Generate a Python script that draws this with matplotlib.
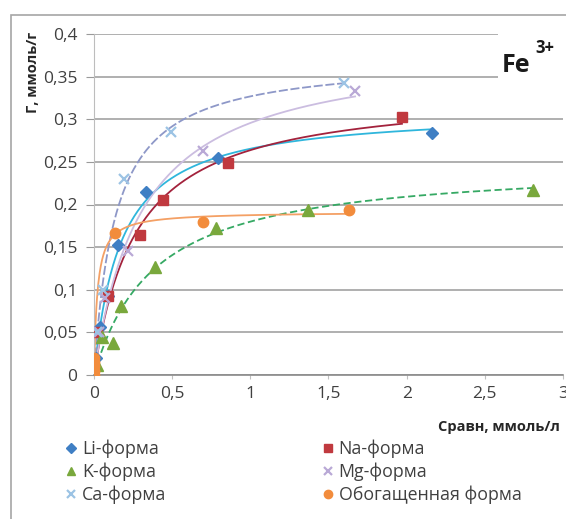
import numpy as np
import matplotlib
matplotlib.use("Agg")
import matplotlib.pyplot as plt
from matplotlib.patches import Rectangle

plt.rcParams['font.family'] = ['Open Sans', 'DejaVu Sans']

# ---- data ----
li_x = [0.01, 0.04, 0.09, 0.155, 0.335, 0.79, 2.16]
li_y = [0.02, 0.056, 0.093, 0.153, 0.215, 0.255, 0.284]
na_x = [0.02, 0.09, 0.296, 0.44, 0.855, 1.97]
na_y = [0.05, 0.093, 0.164, 0.205, 0.249, 0.303]
k_x = [0.02, 0.05, 0.12, 0.17, 0.39, 0.78, 1.37, 2.81]
k_y = [0.012, 0.045, 0.037, 0.081, 0.127, 0.172, 0.194, 0.217]
mg_x = [0.03, 0.07, 0.22, 0.70, 1.67]
mg_y = [0.05, 0.09, 0.145, 0.263, 0.333]
ca_x = [0.02, 0.06, 0.19, 0.49, 1.60]
ca_y = [0.05, 0.10, 0.23, 0.285, 0.342]
ob_x = [0.0, 0.0, 0.0, 0.0, 0.0, 0.135, 0.70, 1.63]
ob_y = [0.0, 0.005, 0.01, 0.015, 0.02, 0.166, 0.18, 0.194]

labels = ['Li-форма', 'Na-форма', 'K-форма', 'Mg-форма', 'Ca-форма', 'Обогащенная форма']
x_ticks = [0, 0.5, 1, 1.5, 2, 2.5, 3]
x_tick_labels = ['0', '0,5', '1', '1,5', '2', '2,5', '3']
y_ticks = [0, 0.05, 0.1, 0.15, 0.2, 0.25, 0.3, 0.35, 0.4]
y_tick_labels = ['0', '0,05', '0,1', '0,15', '0,2', '0,25', '0,3', '0,35', '0,4']


def langmuir_fit(x, y):
    x = np.asarray(x, float)
    y = np.asarray(y, float)
    best = None
    for K in np.logspace(-1, 3, 3000):
        f = K * x / (1 + K * x)
        qm = np.sum(f * y) / np.sum(f * f)
        sse = np.sum((qm * f - y) ** 2)
        if best is None or sse < best[0]:
            best = (sse, K, qm)
    return best[1], best[2]


W, H = 566, 519
fig = plt.figure(figsize=(W / 100, H / 100), dpi=100)
ax = fig.add_axes([94 / W, 1 - 375 / H, (563 - 94) / W, (375 - 34) / H])

series = [
    (li_x, li_y, 'D', '#3f7fc4', '#2fb6dc', '-', 6.5),
    (na_x, na_y, 's', '#c0393f', '#a3223c', '-', 7.5),
    (k_x, k_y, '^', '#79a83c', '#36a964', (0, (4, 2)), 8),
    (mg_x, mg_y, 'x', '#b9a9d6', '#cbbde0', '-', 7.5),
    (ca_x, ca_y, 'x', '#9cc3e4', '#8e98c8', (0, (5, 1.5)), 7.5),
    (ob_x, ob_y, 'o', '#f28c3c', '#f4a065', '-', 7.5),
]

handles = []
for (sx, sy, mk, mc, lc, ls, ms), lab in zip(series, labels):
    K, qm = langmuir_fit(sx, sy)
    xs = np.linspace(0.003, max(sx), 400)
    ax.plot(xs, qm * K * xs / (1 + K * xs), color=lc, lw=1.3, ls=ls, zorder=2)
    mew = 1.6 if mk == 'x' else 1
    h, = ax.plot(sx, sy, ls='none', marker=mk, ms=ms, color=mc, mec=mc, mew=mew,
                 zorder=3, label=lab)
    handles.append(h)

ax.set_xlim(0, 3)
ax.set_ylim(0, 0.4)
ax.set_xticks(x_ticks)
ax.set_xticklabels(x_tick_labels)
ax.set_yticks(y_ticks)
ax.set_yticklabels(y_tick_labels)
ax.tick_params(axis='y', length=6, color='#9a9a9a', labelsize=12.5, labelcolor='#404040', pad=6)
ax.tick_params(axis='x', length=3, color='#c0c0c0', labelsize=12.5, labelcolor='#404040', pad=5)
ax.set_axisbelow(True)
ax.yaxis.grid(True, color='#9a9a9a', lw=1.1)
for s in ['top', 'right']:
    ax.spines[s].set_visible(False)
ax.spines['left'].set_color('#bdbdbd')
ax.spines['bottom'].set_color('#8a8a8a')
ax.spines['bottom'].set_linewidth(1.2)

# white box behind the Fe3+ label covering the upper gridlines
ax.add_patch(Rectangle((0.862, 0.80), 0.2, 0.25, transform=ax.transAxes,
                       facecolor='white', edgecolor='none', zorder=1, clip_on=False))
fig.text(502 / W, 1 - 72 / H, 'Fe', fontsize=18, fontweight='bold', color='#1a1a1a',
         ha='left', va='baseline')
fig.text(535 / W, 1 - 53 / H, '3+', fontsize=12, fontweight='bold', color='#1a1a1a',
         ha='left', va='baseline')

fig.text(560 / W, 1 - 427 / H, 'Сравн, ммоль/л', fontsize=10.5, fontweight='bold',
         color='#262626', ha='right', va='center')
fig.text(33 / W, 1 - 72 / H, 'Г, ммоль/г', fontsize=10.5, fontweight='bold',
         color='#262626', ha='center', va='center', rotation=90)

# outer chart border
fig.add_artist(Rectangle((11 / W, -0.1), 1.2, 1 - 15 / H + 0.1, transform=fig.transFigure,
                         facecolor='none', edgecolor='#a6a6a6', lw=1.2))

order = [0, 2, 4, 1, 3, 5]
leg = fig.legend([handles[i] for i in order], [labels[i] for i in order], ncol=2,
                 loc='upper left', bbox_to_anchor=(57 / W, 1 - 431 / H), frameon=False,
                 fontsize=12.8, handlelength=0.6, handletextpad=0.3, columnspacing=8.8,
                 labelspacing=0.25, markerscale=0.8, borderpad=0, labelcolor='#404040')

fig.savefig('out.png', dpi=100)
